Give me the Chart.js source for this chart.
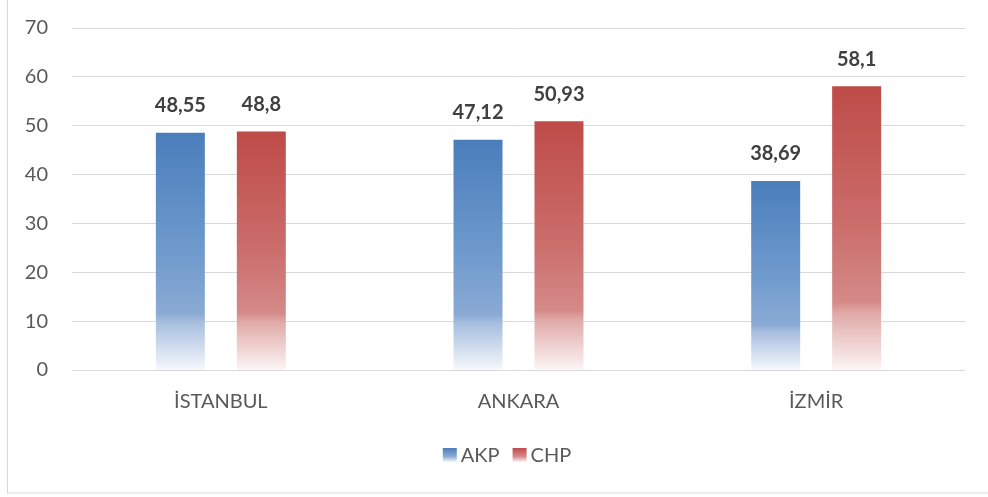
<!DOCTYPE html>
<html>
<head>
<meta charset="utf-8">
<script src="https://cdn.jsdelivr.net/npm/chart.js@4"></script>
<style>
  html, body { margin: 0; padding: 0; background: #fff; }
  #wrap { width: 988px; height: 497px; position: relative; }
</style>
</head>
<body>
<div id="wrap"><canvas id="myChart" width="988" height="497"></canvas></div>
<script>
    // Data for the chart
    const categories = ['İSTANBUL', 'ANKARA', 'İZMİR'];
    const seriesNames = ['AKP', 'CHP'];
    const akpValues = [48.55, 47.12, 38.69];
    const chpValues = [48.8, 50.93, 58.1];
    const yMax = 70;
    const yStep = 10;

    const FONT = 'Lato, "Open Sans", sans-serif';

    // gradient stops per series (top -> bottom of each bar)
    const blueStops = [[0, '#4a7ebb'], [0.5, '#6f9acd'], [0.76, '#8aaad4'], [0.8, '#a8bfdf'], [1, '#f6f8fc']];
    const redStops = [[0, '#be4b48'], [0.5, '#cb6e6c'], [0.76, '#d48a88'], [0.8, '#e0aaa8'], [1, '#fcf5f5']];

    function barGradient(context, stops) {
        const chart = context.chart;
        if (!chart.chartArea || context.type !== 'data') return stops[0][1];
        const yScale = chart.scales.y;
        const top = yScale.getPixelForValue(context.parsed.y);
        const base = yScale.getPixelForValue(0);
        const g = chart.ctx.createLinearGradient(0, top, 0, base);
        stops.forEach(s => g.addColorStop(s[0], s[1]));
        return g;
    }

    const fmt = v => String(v).replace('.', ',');

    // value labels above bars
    const valueLabels = {
        id: 'valueLabels',
        afterDatasetsDraw(chart) {
            const ctx = chart.ctx;
            ctx.save();
            ctx.font = 'bold 20px ' + FONT;
            ctx.fillStyle = '#404040';
            ctx.textAlign = 'center';
            ctx.textBaseline = 'bottom';
            chart.data.datasets.forEach((ds, i) => {
                chart.getDatasetMeta(i).data.forEach((bar, j) => {
                    ctx.fillText(fmt(ds.data[j]), bar.x, bar.y - 17);
                });
            });
            ctx.restore();
        }
    };

    // outer frame
    const frame = {
        id: 'frame',
        beforeDraw(chart) {
            const ctx = chart.ctx;
            ctx.save();
            ctx.fillStyle = '#fff';
            ctx.fillRect(0, 0, chart.width, chart.height);
            ctx.strokeStyle = '#d9d9d9';
            ctx.lineWidth = 1;
            ctx.strokeRect(7.5, -0.5, 1000, 493.5);
            ctx.restore();
        }
    };

    // legend drawn below the axis
    const bottomLegend = {
        id: 'bottomLegend',
        afterDraw(chart) {
            const ctx = chart.ctx;
            ctx.save();
            ctx.font = '20px ' + FONT;
            ctx.textBaseline = 'middle';
            const box = 14, gapText = 4, gapItem = 13, cy = 455;
            const widths = seriesNames.map(n => box + gapText + ctx.measureText(n).width);
            const total = widths.reduce((a, b) => a + b, 0) + gapItem * (widths.length - 1);
            let x = 507 - total / 2;
            seriesNames.forEach((name, i) => {
                const stops = i === 0 ? blueStops : redStops;
                const g = ctx.createLinearGradient(0, cy - box / 2, 0, cy + box / 2);
                g.addColorStop(0, stops[0][1]);
                g.addColorStop(0.6, stops[2][1]);
                g.addColorStop(1, stops[4][1]);
                ctx.fillStyle = g;
                ctx.fillRect(x, cy - box / 2, box, box);
                ctx.fillStyle = '#595959';
                ctx.fillText(name, x + box + gapText, cy + 1);
                x += widths[i] + gapItem;
            });
            ctx.restore();
        }
    };

    const data = {
        labels: categories,
        datasets: [{
            label: seriesNames[0],
            data: akpValues,
            backgroundColor: c => barGradient(c, blueStops)
        }, {
            label: seriesNames[1],
            data: chpValues,
            backgroundColor: c => barGradient(c, redStops)
        }]
    };

    const options = {
        responsive: false,
        animation: false,
        layout: { padding: { left: 0, right: 23, top: 28, bottom: 64 } },
        datasets: {
            bar: { categoryPercentage: 0.544, barPercentage: 0.605 }
        },
        scales: {
            x: {
                grid: { display: false, drawTicks: false },
                border: { display: false },
                ticks: { color: '#595959', font: { family: FONT, size: 20 }, padding: 20 },
                afterFit: s => { s.height = 63; s.paddingLeft = 0; s.paddingRight = 0; }
            },
            y: {
                min: 0,
                max: yMax,
                ticks: { stepSize: yStep, color: '#595959', font: { family: FONT, size: 20 }, padding: 24 },
                grid: { color: '#d9d9d9', lineWidth: 1, drawTicks: false },
                border: { display: false },
                afterFit: s => { s.width = 72; s.paddingTop = 0; s.paddingBottom = 0; }
            }
        },
        plugins: {
            legend: { display: false },
            tooltip: { enabled: false }
        }
    };

    // Initialize the chart
    const ctx = document.getElementById('myChart').getContext('2d');
    const myChart = new Chart(ctx, {
        type: 'bar',
        data: data,
        options: options,
        plugins: [frame, valueLabels, bottomLegend]
    });
</script>
</body>
</html>
